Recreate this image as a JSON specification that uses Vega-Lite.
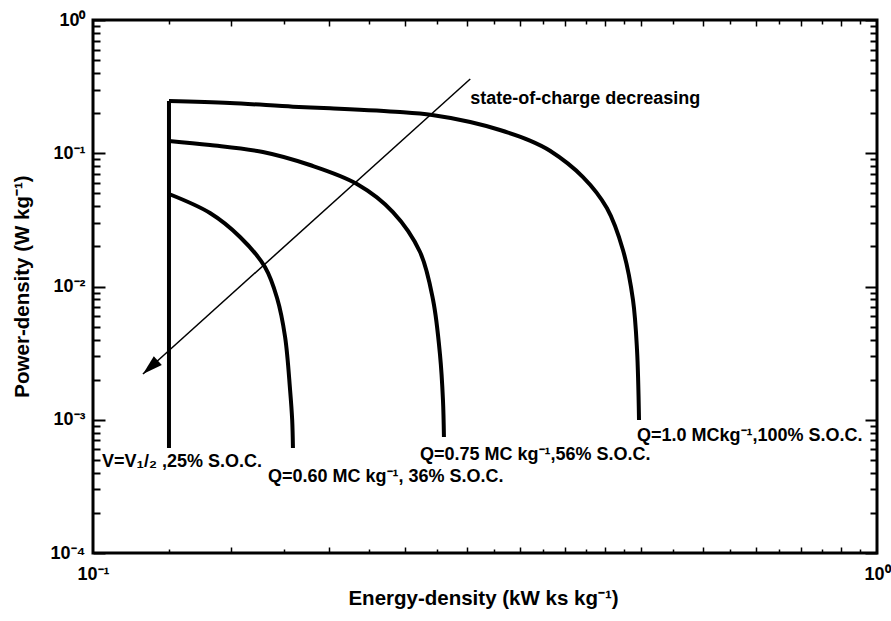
{
  "$schema": "https://vega.github.io/schema/vega-lite/v6.json",
  "width": 784,
  "height": 533,
  "autosize": {"type": "none"},
  "padding": {"left": 93, "top": 20, "right": 14, "bottom": 68},
  "background": "white",
  "config": {
    "view": {"stroke": "black", "strokeWidth": 3},
    "font": "Liberation Sans",
    "axis": {
      "domain": false,
      "grid": false,
      "labelFont": "Liberation Sans",
      "labelFontWeight": "bold",
      "labelFontSize": 18,
      "labelColor": "black",
      "tickColor": "black",
      "titleFont": "Liberation Sans",
      "titleFontWeight": "bold",
      "titleFontSize": 20.5,
      "titleColor": "black"
    }
  },
  "datasets": {
    "curves": [
      {"s": "V", "i": 0, "E": 0.125, "P": 0.2466},
      {"s": "V", "i": 1, "E": 0.125, "P": 0.000614},
      {"s": "Q100", "i": 0, "E": 0.125, "P": 0.2466},
      {"s": "Q100", "i": 1, "E": 0.1495, "P": 0.2383},
      {"s": "Q100", "i": 2, "E": 0.1799, "P": 0.2235},
      {"s": "Q100", "i": 3, "E": 0.2006, "P": 0.2175},
      {"s": "Q100", "i": 4, "E": 0.2463, "P": 0.204},
      {"s": "Q100", "i": 5, "E": 0.2707, "P": 0.1937},
      {"s": "Q100", "i": 6, "E": 0.3028, "P": 0.1716},
      {"s": "Q100", "i": 7, "E": 0.3304, "P": 0.1494},
      {"s": "Q100", "i": 8, "E": 0.3608, "P": 0.1245},
      {"s": "Q100", "i": 9, "E": 0.3827, "P": 0.1045},
      {"s": "Q100", "i": 10, "E": 0.4217, "P": 0.0663},
      {"s": "Q100", "i": 11, "E": 0.4523, "P": 0.0388},
      {"s": "Q100", "i": 12, "E": 0.4742, "P": 0.0188},
      {"s": "Q100", "i": 13, "E": 0.4884, "P": 0.00792},
      {"s": "Q100", "i": 14, "E": 0.4942, "P": 0.00334},
      {"s": "Q100", "i": 15, "E": 0.4971, "P": 0.000996},
      {"s": "Q56", "i": 0, "E": 0.125, "P": 0.1236},
      {"s": "Q56", "i": 1, "E": 0.141, "P": 0.1153},
      {"s": "Q56", "i": 2, "E": 0.1647, "P": 0.1022},
      {"s": "Q56", "i": 3, "E": 0.1891, "P": 0.0816},
      {"s": "Q56", "i": 4, "E": 0.2171, "P": 0.0588},
      {"s": "Q56", "i": 5, "E": 0.2413, "P": 0.0362},
      {"s": "Q56", "i": 6, "E": 0.2613, "P": 0.01815},
      {"s": "Q56", "i": 7, "E": 0.2715, "P": 0.00792},
      {"s": "Q56", "i": 8, "E": 0.2771, "P": 0.00306},
      {"s": "Q56", "i": 9, "E": 0.2795, "P": 0.001407},
      {"s": "Q56", "i": 10, "E": 0.2803, "P": 0.000742},
      {"s": "Q36", "i": 0, "E": 0.125, "P": 0.04944},
      {"s": "Q36", "i": 1, "E": 0.141, "P": 0.0356},
      {"s": "Q36", "i": 2, "E": 0.154, "P": 0.02352},
      {"s": "Q36", "i": 3, "E": 0.1657, "P": 0.014},
      {"s": "Q36", "i": 4, "E": 0.1717, "P": 0.0082},
      {"s": "Q36", "i": 5, "E": 0.1758, "P": 0.00418},
      {"s": "Q36", "i": 6, "E": 0.1784, "P": 0.00167},
      {"s": "Q36", "i": 7, "E": 0.1795, "P": 0.000996},
      {"s": "Q36", "i": 8, "E": 0.1799, "P": 0.000614}
    ],
    "arrow": [
      {"i": 0, "E": 0.3028, "P": 0.3607},
      {"i": 1, "E": 0.1158, "P": 0.002205}
    ],
    "head": [
      {"E": 0.1158, "P": 0.002205}
    ],
    "labels": [
      {"E": 0.1027, "P": 0.000442, "t": "V=V₁/₂ ,25% S.O.C."},
      {"E": 0.1672, "P": 0.000341, "t": "Q=0.60 MC kg⁻¹, 36% S.O.C."},
      {"E": 0.2613, "P": 0.000499, "t": "Q=0.75 MC  kg⁻¹,56% S.O.C."},
      {"E": 0.4942, "P": 0.000693, "t": "Q=1.0 MCkg⁻¹,100% S.O.C."}
    ],
    "note": [
      {"E": 0.3028, "P": 0.2342, "t": "state-of-charge decreasing"}
    ]
  },
  "layer": [
    {
      "data": {"name": "curves"},
      "mark": {"type": "line", "stroke": "black", "strokeWidth": 4, "interpolate": "catmull-rom"},
      "encoding": {
        "x": {"field": "E", "type": "quantitative",
          "scale": {"type": "log", "domain": [0.1, 1], "nice": false, "zero": false},
          "axis": {"orient": "bottom", "values": [0.1, 1], "ticks": false, "labelPadding": 12,
            "labelExpr": "datum.value < 0.5 ? '10⁻¹' : '10⁰'", "labelFlush": false,
            "title": "Energy-density (kW ks kg⁻¹)", "titleX": 390, "titleY": 51,
            "titleBaseline": "alphabetic", "titleAlign": "center"}},
        "y": {"field": "P", "type": "quantitative",
          "scale": {"type": "log", "domain": [0.0001, 1], "nice": false, "zero": false},
          "axis": {"orient": "left", "values": [0.0001, 0.001, 0.01, 0.1, 1], "ticks": false, "labelPadding": 8,
            "labelBaseline": "middle", "labelFlush": false,
            "labelExpr": "['10⁰','10⁻¹','10⁻²','10⁻³','10⁻⁴'][round(-log(datum.value)/LN10)]",
            "title": "Power-density (W kg⁻¹)", "titleX": -71, "titleY": 266, "titleAngle": 270,
            "titleAlign": "center", "titleBaseline": "middle"}},
        "detail": {"field": "s"},
        "order": {"field": "i", "type": "quantitative"}
      }
    },
    {
      "data": {"name": "arrow"},
      "mark": {"type": "line", "stroke": "black", "strokeWidth": 1.5},
      "encoding": {
        "x": {"field": "E", "type": "quantitative",
          "scale": {"type": "log", "domain": [0.1, 1], "nice": false, "zero": false},
          "axis": {"orient": "bottom", "values": [0.15, 0.2, 0.25, 0.3, 0.35, 0.4, 0.45, 0.5, 0.6, 0.7, 0.8, 0.9],
            "labels": false, "offset": -6, "tickSize": 6, "tickWidth": 1.5, "title": null}},
        "y": {"field": "P", "type": "quantitative",
          "scale": {"type": "log", "domain": [0.0001, 1], "nice": false, "zero": false},
          "axis": {"orient": "left", "values": [0.0001, 0.001, 0.01, 0.1, 1],
            "labels": false, "offset": -12, "tickSize": 12, "tickWidth": 2, "title": null}},
        "order": {"field": "i", "type": "quantitative"}
      }
    },
    {
      "data": {"name": "head"},
      "mark": {"type": "point", "filled": true, "color": "black", "opacity": 1, "strokeWidth": 0,
        "shape": "M0,0L0.6,2L-0.6,2Z", "size": 400, "angle": 228},
      "encoding": {
        "x": {"field": "E", "type": "quantitative",
          "scale": {"type": "log", "domain": [0.1, 1], "nice": false, "zero": false},
          "axis": {"orient": "bottom", "values": [0.125, 0.175, 0.225, 0.275, 0.325, 0.375, 0.425, 0.475, 0.55, 0.65, 0.75, 0.85, 0.95],
            "labels": false, "offset": -4, "tickSize": 4, "tickWidth": 1.5, "title": null}},
        "y": {"field": "P", "type": "quantitative",
          "scale": {"type": "log", "domain": [0.0001, 1], "nice": false, "zero": false},
          "axis": {"orient": "left",
            "values": [0.0002, 0.0003, 0.0004, 0.0005, 0.0006, 0.0007, 0.0008, 0.0009,
                       0.002, 0.003, 0.004, 0.005, 0.006, 0.007, 0.008, 0.009,
                       0.02, 0.03, 0.04, 0.05, 0.06, 0.07, 0.08, 0.09,
                       0.2, 0.3, 0.4, 0.5, 0.6, 0.7, 0.8, 0.9],
            "labels": false, "offset": -7, "tickSize": 7, "tickWidth": 2, "title": null}}
      }
    },
    {
      "data": {"name": "labels"},
      "mark": {"type": "text", "align": "left", "baseline": "alphabetic", "font": "Liberation Sans",
        "fontWeight": "bold", "fontSize": 18, "color": "black"},
      "encoding": {
        "x": {"field": "E", "type": "quantitative",
          "scale": {"type": "log", "domain": [0.1, 1], "nice": false, "zero": false},
          "axis": {"orient": "top", "values": [0.15, 0.2, 0.25, 0.3, 0.35, 0.4, 0.45, 0.5, 0.6, 0.7, 0.8, 0.9],
            "labels": false, "offset": -6, "tickSize": 6, "tickWidth": 1.5, "title": null}},
        "y": {"field": "P", "type": "quantitative",
          "scale": {"type": "log", "domain": [0.0001, 1], "nice": false, "zero": false},
          "axis": {"orient": "right", "values": [0.0001, 0.001, 0.01, 0.1, 1],
            "labels": false, "offset": -12, "tickSize": 12, "tickWidth": 2, "title": null}},
        "text": {"field": "t"}
      }
    },
    {
      "data": {"name": "note"},
      "mark": {"type": "text", "align": "left", "baseline": "alphabetic", "font": "Liberation Sans",
        "fontWeight": "bold", "fontSize": 18, "color": "black"},
      "encoding": {
        "x": {"field": "E", "type": "quantitative",
          "scale": {"type": "log", "domain": [0.1, 1], "nice": false, "zero": false},
          "axis": {"orient": "top", "values": [0.125, 0.175, 0.225, 0.275, 0.325, 0.375, 0.425, 0.475, 0.55, 0.65, 0.75, 0.85, 0.95],
            "labels": false, "offset": -4, "tickSize": 4, "tickWidth": 1.5, "title": null}},
        "y": {"field": "P", "type": "quantitative",
          "scale": {"type": "log", "domain": [0.0001, 1], "nice": false, "zero": false},
          "axis": {"orient": "right",
            "values": [0.0002, 0.0003, 0.0004, 0.0005, 0.0006, 0.0007, 0.0008, 0.0009,
                       0.002, 0.003, 0.004, 0.005, 0.006, 0.007, 0.008, 0.009,
                       0.02, 0.03, 0.04, 0.05, 0.06, 0.07, 0.08, 0.09,
                       0.2, 0.3, 0.4, 0.5, 0.6, 0.7, 0.8, 0.9],
            "labels": false, "offset": -7, "tickSize": 7, "tickWidth": 2, "title": null}},
        "text": {"field": "t"}
      }
    }
  ],
  "resolve": {
    "scale": {"x": "shared", "y": "shared"},
    "axis": {"x": "independent", "y": "independent"}
  }
}
